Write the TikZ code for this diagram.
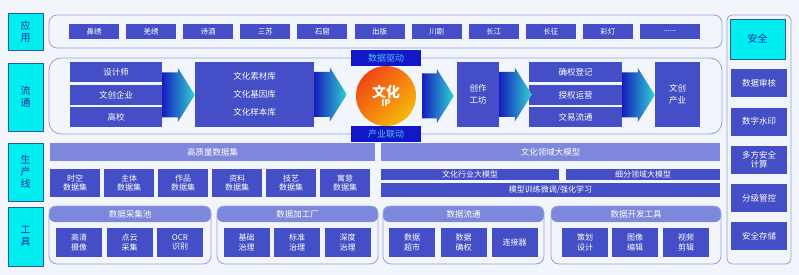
\documentclass[tikz,border=0pt]{standalone}
\usepackage{fontspec}
\setmainfont{Noto Sans CJK SC}
\usetikzlibrary{calc}

\definecolor{bgcol}{RGB}{242,245,251}
\definecolor{itemblue}{RGB}{68,78,198}
\definecolor{barblue}{RGB}{125,135,220}
\definecolor{framecol}{RGB}{140,165,225}
\definecolor{tagcyan}{RGB}{0,238,240}
\definecolor{tagline}{RGB}{40,90,170}
\definecolor{tagtext}{RGB}{20,50,160}
\definecolor{drivebox}{RGB}{16,24,200}
\definecolor{drivetext}{RGB}{80,190,255}
\definecolor{arrowdark}{RGB}{20,30,190}
\definecolor{arrowlight}{RGB}{50,210,210}
\definecolor{iphot}{RGB}{240,70,20}
\definecolor{ipwarm}{RGB}{248,185,10}

\tikzset{
  tag/.style={draw=tagline, line width=0.8pt, fill=tagcyan, text=tagtext, font=\fontsize{10}{12}\selectfont, align=center, inner sep=0pt},
  item/.style={fill=itemblue, text=white, font=\fontsize{8}{9.5}\selectfont, align=center, inner sep=0pt},
  bar/.style={fill=barblue, text=white, font=\fontsize{8.5}{10}\selectfont, inner sep=0pt},
  frame/.style={draw=framecol, line width=0.8pt, rounded corners=8pt, inner sep=0pt},
  drive/.style={fill=drivebox, text=drivetext, font=\fontsize{9}{10}\selectfont, inner sep=0pt, minimum width=70, minimum height=16},
  flow/.style={left color=arrowdark, right color=arrowlight},
}

\newcommand{\flowarrow}[2]{%
  \path[flow] let \p1=#1, \p2=#2 in
    (\x1,{\y1+22.5pt}) -- ({\x2-17pt},{\y1+22.5pt}) -- ({\x2-17pt},{\y1+27pt})
    -- (\x2,\y1) -- ({\x2-17pt},{\y1-27pt}) -- ({\x2-17pt},{\y1-22.5pt})
    -- (\x1,{\y1-22.5pt}) -- cycle;}

\begin{document}
\begin{tikzpicture}[x=1pt, y=-1pt]
  \fill[bgcol] (0,0) rectangle (799,275);
  \useasboundingbox (0,0) rectangle (799,275);

  \node[tag, minimum width=35, minimum height=37] (tapp) at (25.5,31.5) {应\\用};
  \node[tag, minimum width=35, minimum height=68] (tflow) at (25.5,97) {流\\通};
  \node[tag, minimum width=35, minimum height=58] (tprod) at (25.5,172) {生\\产\\线};
  \node[tag, minimum width=35, minimum height=59] (ttool) at (25.5,236.5) {工\\具};

  \node[frame, minimum width=673, minimum height=33] (appframe) at (385.5,31.5) {};
  \foreach \t [count=\i] in {鼻绣,羌绣,诗酒,三苏,石窟,出版,川剧,长江,长征,彩灯}
    \node[item, font=\fontsize{7.5}{9}\selectfont, minimum width=50, minimum height=15] (app\i) at ({69+25+57.1*(\i-1)},31.5) {\t};
  \node[item, font=\fontsize{7.5}{9}\selectfont, minimum width=60, minimum height=15] (app11) at (670,31.5) {......};

  \node[frame, rounded corners=12pt, minimum width=673, minimum height=76] (flowframe) at (385.5,96) {};
  \node[item, font=\fontsize{8.5}{10}\selectfont, minimum width=92, minimum height=20] (dsn1) at (116,72) {设计师};
  \node[item, font=\fontsize{8.5}{10}\selectfont, minimum width=92, minimum height=20] (dsn2) at (116,95) {文创企业};
  \node[item, font=\fontsize{8.5}{10}\selectfont, minimum width=92, minimum height=20] (dsn3) at (116,117) {高校};
  \node[item, font=\fontsize{8.5}{18}\selectfont, minimum width=119, minimum height=65] (lib) at (254.5,94.5) {文化素材库\\文化基因库\\文化样本库};
  \node[circle, minimum size=60, inner sep=0pt, top color=iphot, bottom color=ipwarm, shading angle=45,
        text=white, font=\bfseries, align=center] (ip) at (386,96)
        {{\fontsize{14}{15}\selectfont 文化}\\[-3pt]{\fontsize{9}{10}\selectfont IP}};
  \node[drive] (drv) at (386,58) {数据驱动};
  \node[drive] (lnk) at (386,134) {产业联动};
  \node[item, font=\fontsize{8.5}{11.5}\selectfont, minimum width=42, minimum height=65] (ws) at (478,94.5) {创作\\工坊};
  \node[item, font=\fontsize{8.5}{10}\selectfont, minimum width=93, minimum height=20] (rl1) at (575.5,72) {确权登记};
  \node[item, font=\fontsize{8.5}{10}\selectfont, minimum width=93, minimum height=20] (rl2) at (575.5,95) {授权运营};
  \node[item, font=\fontsize{8.5}{10}\selectfont, minimum width=93, minimum height=20] (rl3) at (575.5,117) {交易流通};
  \node[item, font=\fontsize{8.5}{11.5}\selectfont, minimum width=45, minimum height=65] (ind) at (677.5,94.5) {文创\\产业};

  \flowarrow{(dsn2.east)}{(lib.west)}
  \flowarrow{(lib.east)}{([xshift=-9pt]ip.west)}
  \flowarrow{([xshift=6pt]ip.east)}{([xshift=-3pt]ws.west)}
  \flowarrow{(ws.east)}{([xshift=3pt]rl2.west)}
  \flowarrow{(rl2.east)}{(ind.west)}

  \node[bar, minimum width=325, minimum height=18] (hq) at (212.5,152) {高质量数据集};
  \node[bar, minimum width=339, minimum height=18] (lm) at (550.5,152) {文化领域大模型};
  \foreach \t [count=\i] in {时空,主体,作品,资料,技艺,寓意}
    \node[item, minimum width=50, minimum height=28] (set\i) at ({75+54*(\i-1)},183) {\t\\数据集};
  \node[item, minimum width=178, minimum height=11] (m1) at (470,174.5) {文化行业大模型};
  \node[item, minimum width=154, minimum height=11] (m2) at (643,174.5) {细分领域大模型};
  \node[item, minimum width=339, minimum height=14] (m3) at (550.5,190) {模型训练微调/强化学习};

  \node[bar, rounded corners=6pt, minimum width=162, minimum height=16] (h1) at (130,214) {数据采集池};
  \node[bar, rounded corners=6pt, minimum width=161, minimum height=16] (h2) at (297.5,214) {数据加工厂};
  \node[bar, rounded corners=6pt, minimum width=161, minimum height=16] (h3) at (463.5,214) {数据流通};
  \node[bar, rounded corners=6pt, minimum width=170, minimum height=16] (h4) at (636,214) {数据开发工具};
  \node[frame, minimum width=162, minimum height=58] (g1) at (130,235) {};
  \node[frame, minimum width=161, minimum height=58] (g2) at (297.5,235) {};
  \node[frame, minimum width=161, minimum height=58] (g3) at (463.5,235) {};
  \node[frame, minimum width=170, minimum height=58] (g4) at (636,235) {};
  \node[item, minimum width=46, minimum height=29] (t1) at (79,242.5) {高清\\摄像};
  \node[item, minimum width=46, minimum height=29] (t2) at (129.5,242.5) {点云\\采集};
  \node[item, minimum width=46, minimum height=29] (t3) at (180,242.5) {OCR\\识别};
  \node[item, minimum width=46, minimum height=29] (t4) at (246.5,242.5) {基础\\治理};
  \node[item, minimum width=46, minimum height=29] (t5) at (297,242.5) {标准\\治理};
  \node[item, minimum width=46, minimum height=29] (t6) at (347.5,242.5) {深度\\治理};
  \node[item, minimum width=46, minimum height=29] (t7) at (412,242.5) {数据\\超市};
  \node[item, minimum width=46, minimum height=29] (t8) at (463.5,242.5) {数据\\确权};
  \node[item, minimum width=46, minimum height=29] (t9) at (514.5,242.5) {连接器};
  \node[item, minimum width=46, minimum height=29] (t10) at (585,242.5) {策划\\设计};
  \node[item, minimum width=46, minimum height=29] (t11) at (635,242.5) {图像\\编辑};
  \node[item, minimum width=46, minimum height=29] (t12) at (686,242.5) {视频\\剪辑};

  \node[frame, rounded corners=5pt, minimum width=64, minimum height=249] (secframe) at (759,139.5) {};
  \node[tag, minimum width=55, minimum height=40] (tsec) at (757.5,39) {安全};
  \foreach \t [count=\i] in {数据审核,数字水印,{多方安全\\计算},分级管控,安全存储}
    \node[item, font=\fontsize{8.5}{9.5}\selectfont, minimum width=56, minimum height=28] (sec\i) at (759,{83.5+38.2*(\i-1)}) {\t};
\end{tikzpicture}
\end{document}
